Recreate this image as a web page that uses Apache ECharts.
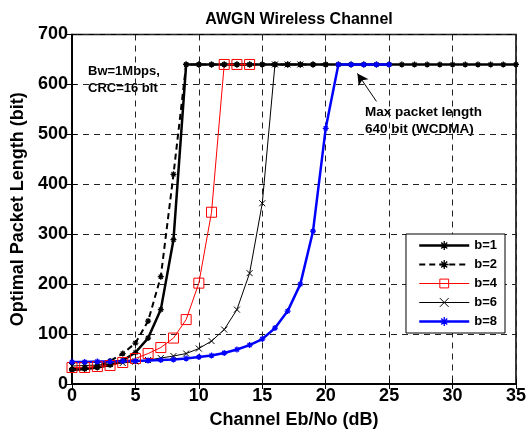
<!DOCTYPE html>
<html>
<head>
<meta charset="utf-8">
<script src="https://cdn.jsdelivr.net/npm/echarts@6/dist/echarts.min.js"></script>
<style>html,body{margin:0;padding:0;background:#fff}#c{width:529px;height:434px}</style>
</head>
<body>
<div id="c"></div>
<script>
// Data (x = Channel Eb/No in dB, step 1 from 0)
const xTicks = [0, 5, 10, 15, 20, 25, 30, 35];
const yTicks = [0, 100, 200, 300, 400, 500, 600, 700];
const seriesNames = ['b=1', 'b=2', 'b=4', 'b=6', 'b=8'];
const b1 = [28,30,33,38,47,63,92,149,289,640,640,640,640,640,640,640,640,640,640,640,640,640,640,640,640,640,640,640,640,640,640,640,640,640,640,640];
const b2 = [29,32,36,46,61,82,126,215,420,640,640,640,640,640,640,640,640,640,640,640,640];
const b4 = [33,33,35,37,43,51,61,73,92,129,202,344,640,640,640];
const b6 = [36,37,38,40,42,45,48,52,56,61,71,86,109,149,222,362,640,640,640];
const b8 = [44,44,45,45,46,46,47,48,49,51,54,57,62,69,78,90,112,146,200,306,512,640,640,640,640,640];

const toPairs = arr => arr.map((v, i) => [i, v]);
const STAR = 'path://M5,0L5,10M0,5L10,5M1.6,1.6L8.4,8.4M8.4,1.6L1.6,8.4';
const XMARK = 'path://M0,0L10,10M10,0L0,10';
const FONT = 'Liberation Sans, Arial, sans-serif';

const chart = echarts.init(document.getElementById('c'), null, {renderer: 'canvas'});

function mkSeries(name, data, color, width, type, symbol, size, symColor, symBorder) {
  return {
    name: name, type: 'line', data: toPairs(data),
    symbol: symbol, symbolSize: size, showAllSymbol: true,
    lineStyle: {color: color, width: width, type: type},
    itemStyle: {color: symColor, borderColor: color, borderWidth: symBorder},
    emphasis: {disabled: true},
    z: 3
  };
}

const option = {
  animation: false,
  backgroundColor: '#fff',
  title: {
    text: 'AWGN Wireless Channel', left: 294, top: 7, textAlign: 'center',
    textStyle: {fontFamily: FONT, fontWeight: 'bold', fontSize: 16, color: '#000'}
  },
  grid: {left: 72, right: 12, top: 34.5, bottom: 47.5, show: true, borderColor: '#000', borderWidth: 1.5, backgroundColor: 'transparent'},
  legend: {
    orient: 'vertical', right: 24, top: 234,
    data: seriesNames,
    itemWidth: 50, itemHeight: 11, itemGap: 6,
    lineStyle: {width: 'inherit'},
    itemStyle: {borderWidth: 'inherit'},
    backgroundColor: '#fff', borderColor: '#000', borderWidth: 1,
    padding: [5, 8, 5, 12],
    textStyle: {fontFamily: FONT, fontWeight: 'bold', fontSize: 13, color: '#000'}
  },
  xAxis: [{
    type: 'value', min: 0, max: 35, interval: 5,
    name: 'Channel Eb/No (dB)', nameLocation: 'middle', nameGap: 27,
    nameTextStyle: {fontFamily: FONT, fontWeight: 'bold', fontSize: 18, color: '#000'},
    axisLine: {show: true, lineStyle: {color: '#000', width: 1.5}},
    axisTick: {show: true, inside: true, length: 5, lineStyle: {color: '#000'}},
    axisLabel: {fontFamily: FONT, fontWeight: 'bold', fontSize: 18, color: '#000', margin: 3},
    splitLine: {show: true, lineStyle: {color: '#222', type: [6, 5], width: 1}}
  }, {
    type: 'value', min: 0, max: 35, interval: 5, position: 'top',
    axisLine: {show: true, lineStyle: {color: '#000', width: 1.5}},
    axisTick: {show: true, inside: true, length: 5, lineStyle: {color: '#000'}},
    axisLabel: {show: false}, splitLine: {show: false}
  }],
  yAxis: [{
    type: 'value', min: 0, max: 700, interval: 100,
    name: 'Optimal Packet Length (bit)', nameLocation: 'middle', nameGap: 43,
    nameTextStyle: {fontFamily: FONT, fontWeight: 'bold', fontSize: 18, color: '#000'},
    axisLine: {show: true, lineStyle: {color: '#000', width: 1.5}},
    axisTick: {show: true, inside: true, length: 5, lineStyle: {color: '#000'}},
    axisLabel: {fontFamily: FONT, fontWeight: 'bold', fontSize: 18, color: '#000', margin: 4},
    splitLine: {show: true, lineStyle: {color: '#222', type: [6, 5], width: 1}}
  }, {
    type: 'value', min: 0, max: 700, interval: 100, position: 'right',
    axisLine: {show: true, lineStyle: {color: '#000', width: 1.5}},
    axisTick: {show: true, inside: true, length: 5, lineStyle: {color: '#000'}},
    axisLabel: {show: false}, splitLine: {show: false}
  }],
  series: [
    mkSeries('b=1', b1, '#000', 2.5, 'solid', STAR, 6, '#000', 1.3),
    mkSeries('b=2', b2, '#000', 2, [6, 4], STAR, 6, '#000', 1.3),
    mkSeries('b=4', b4, '#ff0000', 1, 'solid', 'rect', 10, 'rgba(255,255,255,0)', 1),
    mkSeries('b=6', b6, '#000', 1, 'solid', XMARK, 6, '#000', 1),
    Object.assign(mkSeries('b=8', b8, '#0000ff', 2.5, 'solid', STAR, 6, '#0000ff', 1.3), {
      markLine: {
        silent: true, symbol: ['none', 'arrow'], symbolSize: [9, 11],
        lineStyle: {color: '#000', width: 1, type: 'solid'},
        label: {show: false},
        data: [[{coord: [24.0, 566]}, {coord: [22.5, 622]}]]
      }
    })
  ],
  graphic: [
    {type: 'text', left: 88, top: 63, style: {text: 'Bw=1Mbps,\nCRC=16 bit', font: 'bold 13px ' + FONT, fill: '#000', lineHeight: 17}},
    {type: 'text', left: 365, top: 104, style: {text: 'Max packet length\n640 bit (WCDMA)', font: 'bold 13.5px ' + FONT, fill: '#000', lineHeight: 17}}
  ]
};
chart.setOption(option);
</script>
</body>
</html>
